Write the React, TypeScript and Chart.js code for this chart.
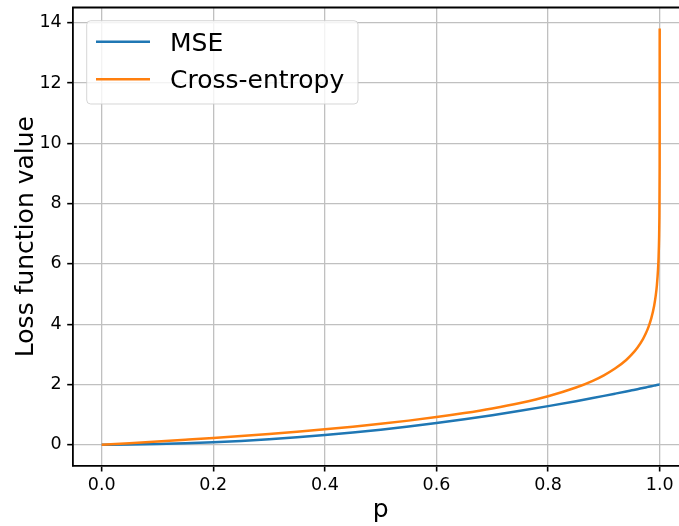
import React, { useEffect, useRef } from "react";
import { Chart, registerables } from "chart.js";

Chart.register(...registerables);

const pValues = [0, 0.05, 0.1, 0.15, 0.2, 0.25, 0.3, 0.35, 0.4, 0.45, 0.5, 0.55, 0.6, 0.65, 0.7, 0.75, 0.8, 0.85, 0.88, 0.9, 0.92, 0.94, 0.95, 0.96, 0.97, 0.975, 0.98, 0.985, 0.99, 0.993, 0.995, 0.997, 0.998, 0.999, 0.9995, 0.9999, 0.99999, 0.999999];
const mseValues = [0, 0.005, 0.02, 0.045, 0.08, 0.125, 0.18, 0.245, 0.32, 0.405, 0.5, 0.605, 0.72, 0.845, 0.98, 1.125, 1.28, 1.445, 1.549, 1.62, 1.693, 1.767, 1.805, 1.843, 1.882, 1.901, 1.921, 1.94, 1.96, 1.972, 1.98, 1.988, 1.992, 1.996, 1.998, 2.0, 2.0, 2.0];
const ceValues = [0, 0.051, 0.105, 0.163, 0.223, 0.288, 0.357, 0.431, 0.511, 0.598, 0.693, 0.799, 0.916, 1.05, 1.204, 1.386, 1.609, 1.897, 2.12, 2.303, 2.526, 2.813, 2.996, 3.219, 3.507, 3.689, 3.912, 4.2, 4.605, 4.962, 5.298, 5.809, 6.215, 6.908, 7.601, 9.21, 11.513, 13.816];

const xTicks = [0, 0.2, 0.4, 0.6, 0.8, 1.0];
const yTicks = [0, 2, 4, 6, 8, 10, 12, 14];
const seriesLabels = ["MSE", "Cross-entropy"];
const seriesColors = ["#1f77b4", "#ff7f0e"];
const xAxisLabel = "p";
const yAxisLabel = "Loss function value";

const FONT = "'DejaVu Sans', sans-serif";

export default function App() {
  const ref = useRef<HTMLCanvasElement>(null);

  useEffect(() => {
    document.body.style.margin = "0";
    const canvas = ref.current!;
    const decor = {
      id: "decor",
      afterDraw(chart: any) {
        const ctx = chart.ctx as CanvasRenderingContext2D;
        const a = chart.chartArea;
        ctx.save();
        // top spine
        ctx.strokeStyle = "#000";
        ctx.lineWidth = 1.8;
        ctx.beginPath();
        ctx.moveTo(a.left - 0.9, a.top);
        ctx.lineTo(a.right, a.top);
        ctx.stroke();

        // legend
        const bx = a.left + 13.7;
        const by = a.top + 13.2;
        const bw = 271.3;
        const bh = 83.3;
        ctx.beginPath();
        (ctx as any).roundRect(bx, by, bw, bh, 4);
        ctx.fillStyle = "rgba(255,255,255,0.8)";
        ctx.fill();
        ctx.strokeStyle = "rgba(204,204,204,0.8)";
        ctx.lineWidth = 1;
        ctx.stroke();
        const rowY = [by + 21, by + 58.5];
        ctx.font = `25px ${FONT}`;
        ctx.textAlign = "left";
        ctx.textBaseline = "alphabetic";
        seriesLabels.forEach((lab, i) => {
          ctx.strokeStyle = seriesColors[i];
          ctx.lineWidth = 2.5;
          ctx.beginPath();
          ctx.moveTo(bx + 9.3, rowY[i]);
          ctx.lineTo(bx + 63.3, rowY[i]);
          ctx.stroke();
          ctx.fillStyle = "#000";
          ctx.fillText(lab, bx + 83.3, rowY[i] + 9);
        });

        // axis titles
        const xs = chart.scales.x;
        ctx.font = `25px ${FONT}`;
        ctx.textAlign = "center";
        ctx.fillText(xAxisLabel, xs.getPixelForValue(0.5), 517);
        ctx.translate(33, (a.top + a.bottom) / 2);
        ctx.rotate(-Math.PI / 2);
        ctx.fillText(yAxisLabel, 0, 0);
        ctx.restore();
      },
    };

    const zeroPad = (s: any) => {
      s.paddingTop = 0;
      s.paddingBottom = 0;
      s.paddingLeft = 0;
      s.paddingRight = 0;
    };

    const chart = new Chart(canvas, {
      type: "scatter",
      data: {
        datasets: [
          {
            label: seriesLabels[0],
            data: pValues.map((p, i) => ({ x: p, y: mseValues[i] })),
            borderColor: seriesColors[0],
            backgroundColor: seriesColors[0],
            borderWidth: 2.5,
            showLine: true,
            pointRadius: 0,
            cubicInterpolationMode: "monotone",
            order: 1,
          },
          {
            label: seriesLabels[1],
            data: pValues.map((p, i) => ({ x: p, y: ceValues[i] })),
            borderColor: seriesColors[1],
            backgroundColor: seriesColors[1],
            borderWidth: 2.5,
            showLine: true,
            pointRadius: 0,
            cubicInterpolationMode: "monotone",
            order: 0,
          },
        ],
      },
      options: {
        responsive: false,
        maintainAspectRatio: false,
        animation: false,
        events: [],
        layout: { padding: { top: 7.5, left: 0, right: 0, bottom: 0 } },
        plugins: { legend: { display: false }, tooltip: { enabled: false } },
        scales: {
          x: {
            type: "linear",
            min: -0.0514,
            max: 1.0346,
            afterBuildTicks: (s: any) => {
              s.ticks = xTicks.map((v) => ({ value: v }));
            },
            afterFit: (s: any) => {
              s.height = 60.3;
              zeroPad(s);
            },
            ticks: {
              color: "#000",
              font: { family: FONT, size: 17.5 },
              padding: 3.5,
              maxRotation: 0,
              autoSkip: false,
              callback: (v: any) => Number(v).toFixed(1),
            },
            grid: {
              color: "#c0c0c0",
              lineWidth: 1.3,
              tickColor: "#000",
              tickLength: 5.8,
              tickWidth: 1.6,
            },
            border: { display: true, color: "#000", width: 1.8 },
          },
          y: {
            type: "linear",
            min: -0.697,
            max: 14.51,
            afterBuildTicks: (s: any) => {
              s.ticks = yTicks.map((v) => ({ value: v }));
            },
            afterFit: (s: any) => {
              s.width = 73;
              zeroPad(s);
            },
            ticks: {
              color: "#000",
              font: { family: FONT, size: 17.5 },
              padding: 5.5,
              autoSkip: false,
              callback: (v: any) => String(v),
            },
            grid: {
              color: "#c0c0c0",
              lineWidth: 1.3,
              tickColor: "#000",
              tickLength: 5.8,
              tickWidth: 1.6,
            },
            border: { display: true, color: "#000", width: 1.8 },
          },
        },
      },
      plugins: [decor],
    });
    return () => chart.destroy();
  }, []);

  return (
    <div style={{ position: "fixed", left: 0, top: 0, width: 679, height: 526 }}>
      <canvas ref={ref} width={679} height={526} style={{ display: "block" }} />
    </div>
  );
}
